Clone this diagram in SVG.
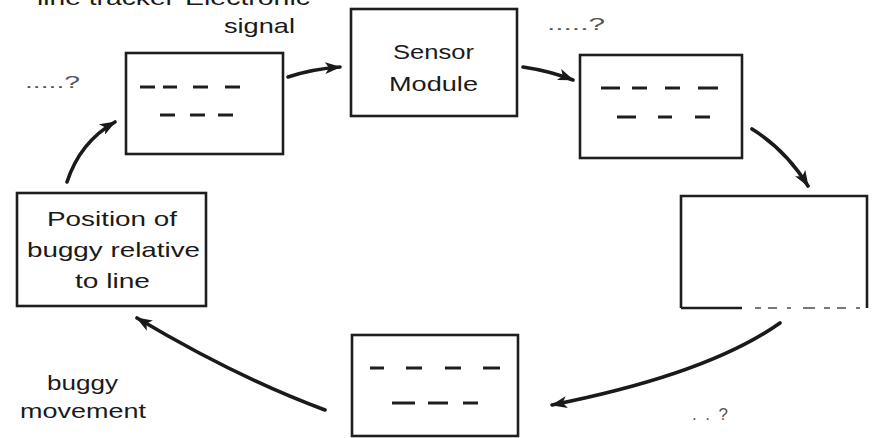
<svg xmlns="http://www.w3.org/2000/svg" width="878" height="438" viewBox="0 0 878 438">
  <style>
    .box { fill: #ffffff; stroke: #1e1e1e; stroke-width: 2.6; }
    .dash { stroke: #1e1e1e; stroke-width: 3; stroke-linecap: butt; }
    .lbl { font-family: "Liberation Sans", Arial, sans-serif; font-size: 21px; fill: #1a1a1a; }
    .q { font-family: "Liberation Sans", Arial, sans-serif; font-size: 17px; fill: #555555; }
    .conn { fill: none; stroke: #1a1a1a; stroke-width: 3.6; stroke-linecap: round; }
  </style>
  <defs>
    <marker id="head" markerUnits="userSpaceOnUse" markerWidth="18" markerHeight="12" refX="15" refY="6" orient="auto">
      <path d="M0,0 L16,6 L0,12 L4,6 Z" fill="#1a1a1a"/>
    </marker>
  </defs>

  <rect width="878" height="438" fill="#ffffff"/>

  <!-- loose labels -->
  <g id="labels">
    <text class="lbl" x="37" y="5" textLength="138" lengthAdjust="spacingAndGlyphs">line tracker</text>
    <text class="lbl" x="185" y="5" textLength="125" lengthAdjust="spacingAndGlyphs">Electronic</text>
    <text class="lbl" x="224" y="33" textLength="71" lengthAdjust="spacingAndGlyphs">signal</text>
    <text class="q" x="25" y="88" textLength="55" lengthAdjust="spacingAndGlyphs">.....?</text>
    <text class="q" x="547" y="30" textLength="58" lengthAdjust="spacingAndGlyphs">.....?</text>
    <text class="q" x="692" y="420" textLength="36" lengthAdjust="spacing" fill="#888888">. . ?</text>
    <text class="lbl" x="47" y="390" textLength="71" lengthAdjust="spacingAndGlyphs">buggy</text>
    <text class="lbl" x="20" y="418" textLength="126" lengthAdjust="spacingAndGlyphs">movement</text>
  </g>

  <!-- top-left block (unnamed) -->
  <g id="node-top-left">
    <rect class="box" x="126" y="53" width="157" height="101"/>
    <line class="dash" x1="140" y1="87" x2="155" y2="87"/>
    <line class="dash" x1="163" y1="87" x2="177" y2="87"/>
    <line class="dash" x1="193" y1="87" x2="208" y2="87"/>
    <line class="dash" x1="225" y1="87" x2="240" y2="87"/>
    <line class="dash" x1="160" y1="115" x2="175" y2="115"/>
    <line class="dash" x1="190" y1="115" x2="205" y2="115"/>
    <line class="dash" x1="218" y1="115" x2="233" y2="115"/>
  </g>

  <!-- sensor module -->
  <g id="node-sensor">
    <rect class="box" x="351" y="9" width="166" height="107"/>
    <text class="lbl" x="393" y="59" textLength="81" lengthAdjust="spacingAndGlyphs">Sensor</text>
    <text class="lbl" x="389" y="91" textLength="89" lengthAdjust="spacingAndGlyphs">Module</text>
  </g>

  <!-- top-right block (unnamed) -->
  <g id="node-top-right">
    <rect class="box" x="580" y="55" width="162" height="103"/>
    <line class="dash" x1="601" y1="88" x2="620" y2="88"/>
    <line class="dash" x1="632" y1="88" x2="647" y2="88"/>
    <line class="dash" x1="665" y1="88" x2="680" y2="88"/>
    <line class="dash" x1="698" y1="88" x2="718" y2="88"/>
    <line class="dash" x1="617" y1="117" x2="636" y2="117"/>
    <line class="dash" x1="658" y1="117" x2="672" y2="117"/>
    <line class="dash" x1="695" y1="117" x2="710" y2="117"/>
  </g>

  <!-- right block (empty), bottom edge partly broken -->
  <g id="node-right">
    <rect x="681" y="196" width="186" height="112" fill="#ffffff" stroke="none"/>
    <path d="M681,308 L681,196 L867,196 L867,308" fill="none" stroke="#1e1e1e" stroke-width="2.6"/>
    <line x1="681" y1="308" x2="742" y2="308" stroke="#1e1e1e" stroke-width="2.4"/>
    <line x1="755" y1="308" x2="867" y2="308" stroke="#777777" stroke-width="2" stroke-dasharray="6 7 9 10 4 12 12 9"/>
  </g>

  <!-- bottom block (unnamed) -->
  <g id="node-bottom">
    <rect class="box" x="352" y="335" width="166" height="101"/>
    <line class="dash" x1="370" y1="368" x2="384" y2="368"/>
    <line class="dash" x1="406" y1="368" x2="422" y2="368"/>
    <line class="dash" x1="445" y1="368" x2="461" y2="368"/>
    <line class="dash" x1="483" y1="368" x2="500" y2="368"/>
    <line class="dash" x1="392" y1="403" x2="415" y2="403"/>
    <line class="dash" x1="428" y1="403" x2="448" y2="403"/>
    <line class="dash" x1="463" y1="403" x2="478" y2="403"/>
  </g>

  <!-- position block -->
  <g id="node-position">
    <rect class="box" x="17" y="193" width="189" height="113"/>
    <text class="lbl" x="47" y="226" textLength="130" lengthAdjust="spacingAndGlyphs">Position of</text>
    <text class="lbl" x="27" y="257" textLength="173" lengthAdjust="spacingAndGlyphs">buggy relative</text>
    <text class="lbl" x="75" y="288" textLength="75" lengthAdjust="spacingAndGlyphs">to line</text>
  </g>

  <!-- connectors around the loop -->
  <g id="connectors">
    <path class="conn" d="M67,182 Q80,142 115,122" marker-end="url(#head)"/>
    <path class="conn" d="M288,77 Q312,69 340,67" marker-end="url(#head)"/>
    <path class="conn" d="M523,67 Q550,71 573,80" marker-end="url(#head)"/>
    <path class="conn" d="M752,129 Q786,150 808,186" marker-end="url(#head)"/>
    <path class="conn" d="M780,323 Q708,374 552,405" marker-end="url(#head)"/>
    <path class="conn" d="M325,410 Q238,378 137,318" marker-end="url(#head)"/>
  </g>
</svg>
